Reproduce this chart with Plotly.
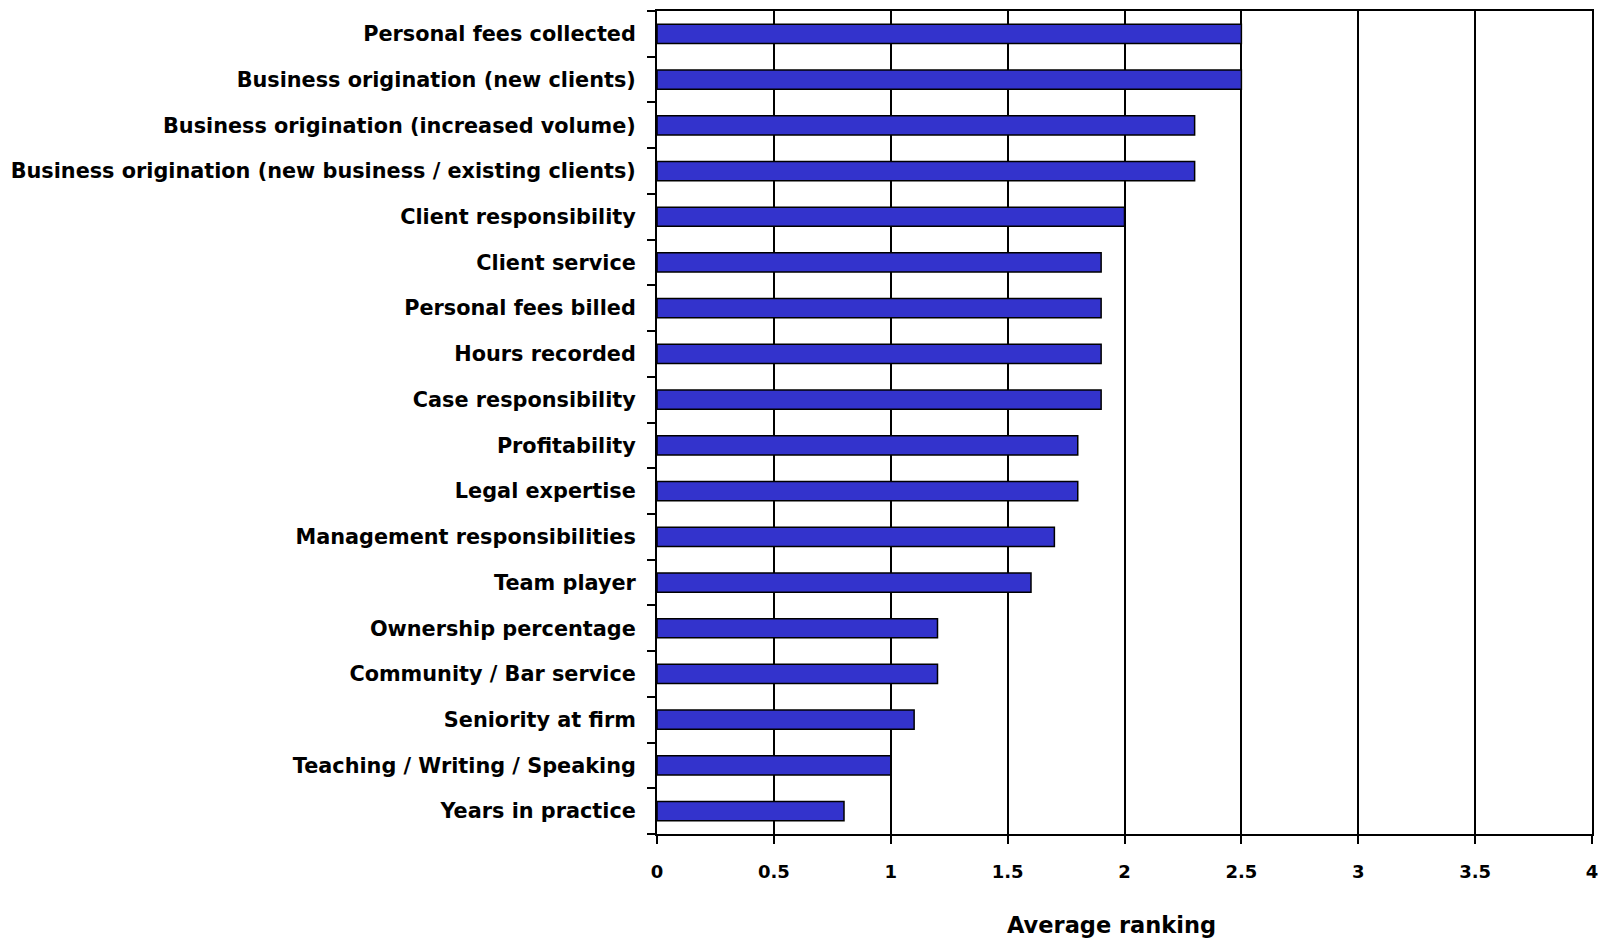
import plotly.graph_objects as go

categories = [
    "Personal fees collected",
    "Business origination (new clients)",
    "Business origination (increased volume)",
    "Business origination (new business / existing clients)",
    "Client responsibility",
    "Client service",
    "Personal fees billed",
    "Hours recorded",
    "Case responsibility",
    "Profitability",
    "Legal expertise",
    "Management responsibilities",
    "Team player",
    "Ownership percentage",
    "Community / Bar service",
    "Seniority at firm",
    "Teaching / Writing / Speaking",
    "Years in practice",
]
values = [2.5, 2.5, 2.3, 2.3, 2.0, 1.9, 1.9, 1.9, 1.9, 1.8, 1.8, 1.7, 1.6, 1.2, 1.2, 1.1, 1.0, 0.8]
x_ticks = [0, 0.5, 1, 1.5, 2, 2.5, 3, 3.5, 4]
x_tick_labels = ["0", "0.5", "1", "1.5", "2", "2.5", "3", "3.5", "4"]
x_title = "Average ranking"

FONT = "DejaVu Sans, Liberation Sans, Arial, sans-serif"

fig = go.Figure(go.Bar(
    x=values,
    y=categories,
    orientation="h",
    marker=dict(color="#3333CC", line=dict(color="black", width=1.5)),
))

fig.update_layout(
    width=1598, height=931,
    margin=dict(l=649, r=14, t=1, b=105),
    paper_bgcolor="white", plot_bgcolor="white",
    bargap=0.58,
    showlegend=False,
    font=dict(family=FONT, color="black"),
    annotations=[dict(
        text=f"<b>{x_title}</b>", xref="paper", yref="paper",
        x=0.4856, y=-0.111, xanchor="center", yanchor="middle",
        showarrow=False, font=dict(size=22.5, family=FONT),
    )],
)
fig.update_xaxes(
    range=[0, 4],
    tickvals=x_ticks, ticktext=[f"<b>{t}</b>" for t in x_tick_labels],
    tickfont=dict(size=18),
    showgrid=True, gridcolor="black", gridwidth=1.5,
    showline=True, linecolor="black", linewidth=2, mirror=True,
    ticks="outside", ticklen=8, tickcolor="black", tickwidth=1.5,
    zeroline=False,
    ticklabelstandoff=12,
)
fig.update_yaxes(
    autorange="reversed",
    tickvals=categories, ticktext=[f"<b>{c}</b>" for c in categories],
    tickfont=dict(size=20.8),
    tickson="boundaries",
    ticks="outside", ticklen=8, tickcolor="black", tickwidth=1.5,
    showline=True, linecolor="black", linewidth=2, mirror=True,
    showgrid=False,
    ticklabelstandoff=15,
    automargin=False,
)

fig.write_html("out.html")
